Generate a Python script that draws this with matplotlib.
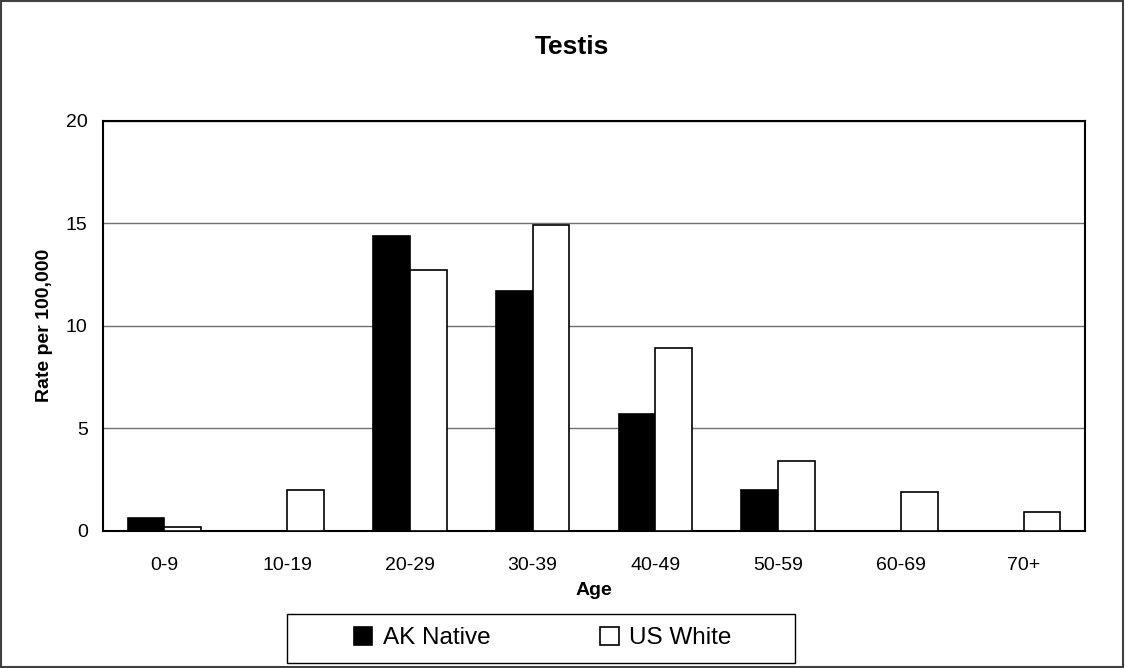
import numpy as np
import matplotlib.pyplot as plt
from matplotlib.patches import Rectangle

plt.rcParams['font.family'] = ['Liberation Sans', 'DejaVu Sans']

# data
ages = ['0-9', '10-19', '20-29', '30-39', '40-49', '50-59', '60-69', '70+']
ak_native = [0.6, 0.0, 14.4, 11.7, 5.7, 2.0, 0.0, 0.0]
us_white = [0.2, 2.0, 12.7, 14.9, 8.9, 3.4, 1.9, 0.9]

fig = plt.figure(figsize=(11.25, 6.68), dpi=100)
ax = fig.add_axes([103/1125, 1 - 530.7/668, 982/1125, 410/668])

x = np.arange(len(ages))
w = 0.3
ax.bar(x - w/2, ak_native, w, color='black', edgecolor='black', linewidth=1.2,
       label='AK Native', zorder=3)
ax.bar(x + w/2, us_white, w, color='white', edgecolor='black', linewidth=1.2,
       label='US White', zorder=3)

ax.set_xlim(-0.5, len(ages) - 0.5)
ax.set_ylim(0, 20)
ax.set_yticks([0, 5, 10, 15, 20])
ax.set_xticks(x)
ax.set_xticklabels(ages)
ax.tick_params(axis='both', length=0, labelsize=14)
ax.tick_params(axis='x', pad=19)
ax.tick_params(axis='y', pad=11)
ax.yaxis.grid(True, color='#707070', linewidth=1)
ax.set_axisbelow(True)
for s in ax.spines.values():
    s.set_linewidth(1.5)
    s.set_color('black')

ax.set_xlabel('Age', fontsize=14, fontweight='bold', labelpad=6)
ax.set_ylabel('Rate per 100,000', fontsize=14, fontweight='bold', labelpad=9)

fig.text(572/1125, 1 - 47/668, 'Testis', ha='center', va='center',
         fontsize=19, fontweight='bold')

leg = fig.legend(loc='center', bbox_to_anchor=(543/1125, 1 - 638/668), ncol=2,
                 fontsize=17.5, frameon=False,
                 handlelength=0.75, handleheight=0.75, handletextpad=0.45,
                 columnspacing=4.5, borderpad=0, borderaxespad=0)

# legend box and outer border of the chart
fig.patches.append(Rectangle((287/1125, 1 - 663/668), 508/1125, 49/668,
                             transform=fig.transFigure, fill=False,
                             edgecolor='black', linewidth=1))
fig.patches.append(Rectangle((0.001, 0.001), 0.997, 0.997, transform=fig.transFigure,
                             fill=False, edgecolor='#404040', linewidth=1.5))

plt.savefig('out.png', dpi=100)
